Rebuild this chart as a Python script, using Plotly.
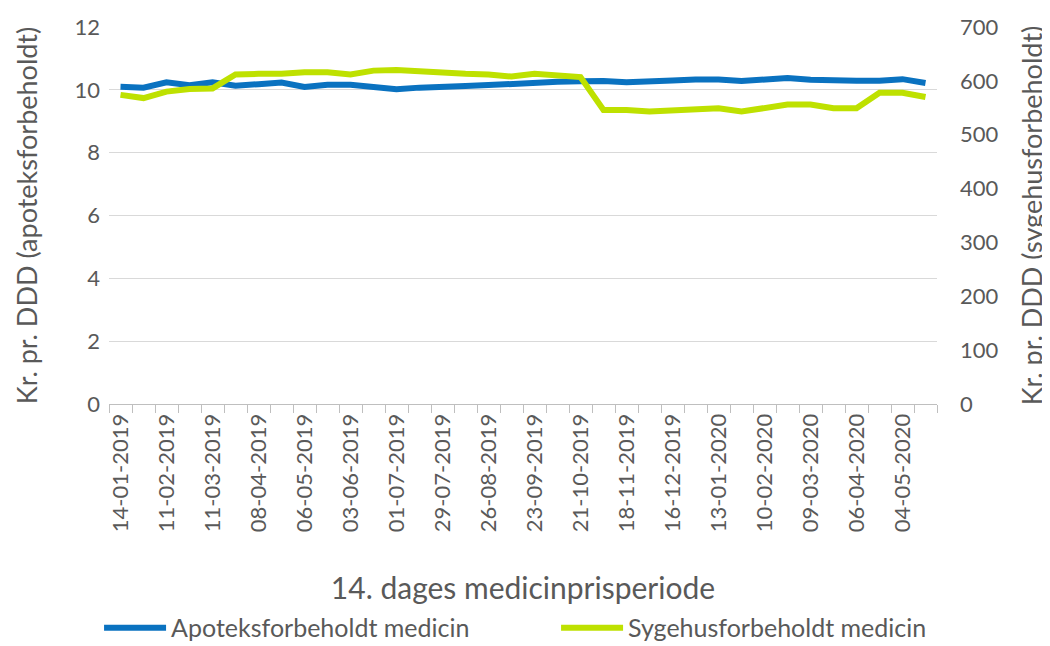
import plotly.graph_objects as go

periods = [
    "14-01-2019", "28-01-2019", "11-02-2019", "25-02-2019", "11-03-2019", "25-03-2019",
    "08-04-2019", "22-04-2019", "06-05-2019", "20-05-2019", "03-06-2019", "17-06-2019",
    "01-07-2019", "15-07-2019", "29-07-2019", "12-08-2019", "26-08-2019", "09-09-2019",
    "23-09-2019", "07-10-2019", "21-10-2019", "04-11-2019", "18-11-2019", "02-12-2019",
    "16-12-2019", "30-12-2019", "13-01-2020", "27-01-2020", "10-02-2020", "24-02-2020",
    "09-03-2020", "23-03-2020", "06-04-2020", "20-04-2020", "04-05-2020", "18-05-2020",
]

apotek = [
    10.10, 10.07, 10.24, 10.15, 10.24, 10.13, 10.18, 10.23, 10.09, 10.16, 10.16, 10.09,
    10.02, 10.07, 10.08, 10.12, 10.15, 10.20, 10.23, 10.26, 10.27, 10.28, 10.24, 10.29,
    10.30, 10.33, 10.33, 10.28, 10.33, 10.38, 10.32, 10.29, 10.29, 10.29, 10.34, 10.22,
]

sygehus = [
    574, 568, 580, 585, 586, 612, 613, 613, 616, 616, 612, 619,
    620, 617, 614, 613, 612, 608, 613, 610, 607, 546, 546, 543,
    545, 549, 549, 543, 549, 556, 556, 549, 549, 578, 578, 570,
]

left_ticks = [0, 2, 4, 6, 8, 10, 12]
right_ticks = [0, 100, 200, 300, 400, 500, 600, 700]

tick_text = [p if i % 2 == 0 else "" for i, p in enumerate(periods)]

FONT = "Lato"
GRAY = "#595959"
BLUE = "#0A72C0"
GREEN = "#BEE100"

fig = go.Figure()
fig.add_trace(go.Scatter(
    x=periods, y=apotek, name="Apoteksforbeholdt medicin", mode="lines",
    line=dict(color=BLUE, width=6), yaxis="y",
))
fig.add_trace(go.Scatter(
    x=periods, y=sygehus, name="Sygehusforbeholdt medicin", mode="lines",
    line=dict(color=GREEN, width=6), yaxis="y2",
))

# page body has an 8px margin, so the figure is 8px smaller than the window
fig.update_layout(
    width=1042, height=638,
    margin=dict(l=101, r=113, t=19, b=242, autoexpand=False),
    paper_bgcolor="white", plot_bgcolor="white",
    font=dict(family=FONT, color=GRAY, size=22),
    showlegend=True,
    legend=dict(
        orientation="h", x=-0.012, xanchor="left", y=-0.594, yanchor="middle",
        font=dict(family=FONT, size=25, color=GRAY),
        itemwidth=62, entrywidth=380, entrywidthmode="pixels",
        bgcolor="rgba(0,0,0,0)",
    ),
    xaxis=dict(
        type="category", automargin=False,
        tickmode="array", tickvals=periods, ticktext=tick_text,
        tickson="boundaries", ticks="outside", ticklen=8, tickcolor="#BFBFBF",
        tickangle=-90, showgrid=False,
        showline=True, linecolor="#BFBFBF", linewidth=1,
        tickfont=dict(family=FONT, size=22, color=GRAY),
        title=dict(text="14. dages medicinprisperiode", font=dict(family=FONT, size=30, color=GRAY), standoff=46),
        range=[-0.5, len(periods) - 0.5],
    ),
    yaxis=dict(
        range=[0, 12], tickmode="array", tickvals=left_ticks, automargin=False,
        showgrid=True, gridcolor="#D9D9D9", gridwidth=1,
        zeroline=False, showline=False, ticks="",
        ticklabelstandoff=8,
        tickfont=dict(family=FONT, size=22, color=GRAY),
        title=dict(text="Kr. pr. DDD (apoteksforbeholdt)", font=dict(family=FONT, size=27, color=GRAY), standoff=29),
    ),
    yaxis2=dict(
        range=[0, 700], tickmode="array", tickvals=right_ticks, automargin=False,
        overlaying="y", side="right", showgrid=False, zeroline=False,
        showline=False, ticks="", ticklabelstandoff=22,
        tickfont=dict(family=FONT, size=22, color=GRAY),
        title=dict(text="Kr. pr. DDD (sygehusforbeholdt)", font=dict(family=FONT, size=27, color=GRAY), standoff=25),
    ),
)

fig.write_html("out.html")
